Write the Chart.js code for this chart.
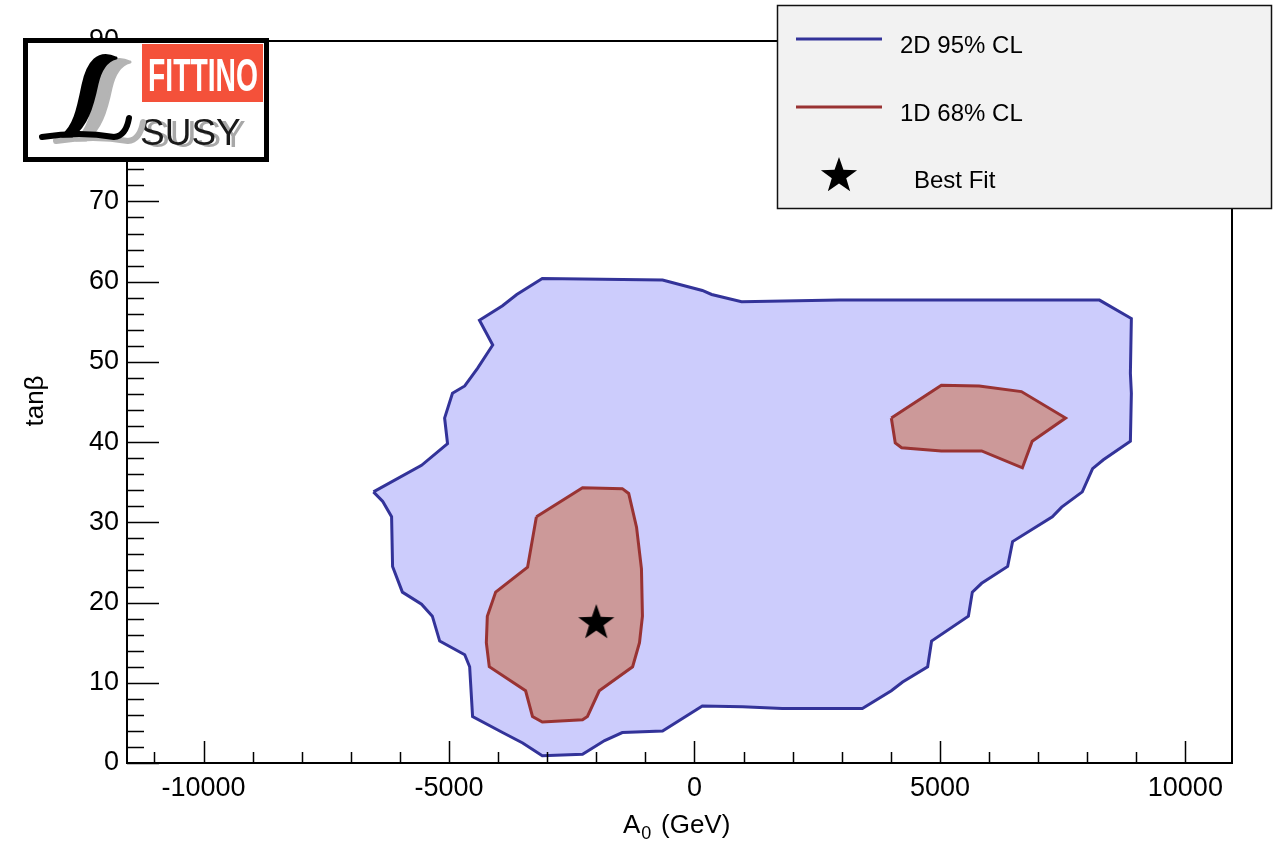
<!DOCTYPE html>
<html>
<head>
<meta charset="utf-8">
<script src="https://cdn.jsdelivr.net/npm/chart.js@4.4.1/dist/chart.umd.min.js"></script>
<style>
html, body { margin: 0; padding: 0; background: #fff; }
</style>
</head>
<body>
<canvas id="fitPlot" width="1281" height="841"></canvas>
<script>
// 2D 95% CL contour (A0 in GeV, tan beta)
var blueA0 = [-6540, -5560, -5030, -5090, -4930, -4680, -4420, -4110, -4380, -3910, -3620, -3100,
    -650, 160, 350, 960, 2950, 8250, 8900, 8880, 8900, 8880, 8330, 8110, 7900, 7480, 7290, 6480,
    6380, 5850, 5660, 5580, 4830, 4750, 4240, 4010, 3420, 1790, 980, 160, -650, -1470, -1830,
    -2280, -3100, -3500, -3910, -4520, -4580, -4680, -5190, -5340, -5560, -5950, -6150, -6170,
    -6350, -6540];
var blueTanb = [33.8, 37.1, 39.8, 43.0, 46.1, 47.0, 49.2, 52.1, 55.2, 57.0, 58.4, 60.4,
    60.2, 58.9, 58.4, 57.5, 57.7, 57.7, 55.4, 48.6, 46.1, 40.1, 37.8, 36.7, 33.8, 31.9, 30.7, 27.6,
    24.5, 22.4, 21.3, 18.3, 15.2, 12.0, 10.1, 9.0, 6.8, 6.8, 7.0, 7.1, 4.0, 3.8, 2.8,
    1.1, 0.9, 2.5, 3.8, 5.8, 12.0, 13.5, 15.2, 18.3, 19.8, 21.3, 24.5, 30.7,
    32.6, 33.8];

// 1D 68% CL islands
var redLeftA0 = [-3220, -2280, -1470, -1340, -1180, -1080, -1060, -1120, -1260, -1940, -2180,
    -2280, -3100, -3300, -3440, -4180, -4240, -4220, -4050, -3400, -3220];
var redLeftTanb = [30.7, 34.3, 34.2, 33.6, 29.4, 24.2, 18.3, 15.0, 12.0, 9.0, 5.8,
    5.4, 5.1, 5.8, 9.0, 12.0, 15.0, 18.3, 21.3, 24.4, 30.7];
var redRightA0 = [4010, 5030, 5800, 6660, 7560, 6880, 6680, 5850, 5030, 4220, 4090, 4010];
var redRightTanb = [43.0, 47.1, 47.0, 46.3, 43.0, 40.1, 36.8, 38.9, 38.9, 39.3, 39.9, 43.0];

var bestA0 = [-2000];
var bestTanb = [17.7];

var xTicks = [-10000, -5000, 0, 5000, 10000];
var yTicks = [0, 10, 20, 30, 40, 50, 60, 70, 80, 90];

var legendLabels = ['2D 95% CL', '1D 68% CL', 'Best Fit'];

var FONT = '"Liberation Sans", Arial, Helvetica, sans-serif';

function zip(xs, ys) {
    var pts = [];
    for (var i = 0; i < xs.length; i++) {
        pts.push({x: xs[i], y: ys[i]});
    }
    return pts;
}

function makeStar(size) {
    var c = document.createElement('canvas');
    c.width = size;
    c.height = size;
    var g = c.getContext('2d');
    var R = size / 2, r = R * 0.4;
    g.beginPath();
    for (var i = 0; i < 10; i++) {
        var rad = (i % 2 === 0) ? R : r;
        var a = -Math.PI / 2 + i * Math.PI / 5;
        var px = R + rad * Math.cos(a), py = R + 2 + rad * Math.sin(a);
        if (i === 0) g.moveTo(px, py); else g.lineTo(px, py);
    }
    g.closePath();
    g.fillStyle = '#000';
    g.fill();
    return c;
}
var starImg = makeStar(38);

function drawLogo(ctx) {
    ctx.save();
    ctx.fillStyle = '#fff';
    ctx.fillRect(23, 38, 246, 124);
    ctx.lineWidth = 5;
    ctx.strokeStyle = '#000';
    ctx.strokeRect(25.5, 40.5, 241, 119);
    ctx.fillStyle = '#f4513a';
    ctx.fillRect(142, 44, 121, 58);
    ctx.fillStyle = '#fff';
    ctx.font = 'bold 47px ' + FONT;
    ctx.textBaseline = 'alphabetic';
    ctx.fillText('FITTINO', 148, 91, 110);
    // SUSY with grey shadow
    ctx.font = '37px ' + FONT;
    ctx.fillStyle = '#a8a8a8';
    ctx.fillText('SUSY', 145, 147, 106);
    ctx.fillStyle = '#1a1a1a';
    ctx.fillText('SUSY', 140, 145, 106);
    // script L, shadow then ink
    var strokes = [['#b4b4b4', 14, 4], ['#000', 0, 0]];
    ctx.lineCap = 'round';
    ctx.lineJoin = 'round';
    strokes.forEach(function (s) {
        var dx = s[1], dy = s[2];
        ctx.strokeStyle = s[0];
        ctx.fillStyle = s[0];
        // stem as a filled tapered stroke
        ctx.beginPath();
        ctx.moveTo(116 + dx, 58 + dy);
        ctx.bezierCurveTo(98 + dx, 50 + dy, 88 + dx, 62 + dy, 83 + dx, 85 + dy);
        ctx.bezierCurveTo(78 + dx, 110 + dy, 74 + dx, 128 + dy, 62 + dx, 136 + dy);
        ctx.lineTo(72 + dx, 136 + dy);
        ctx.bezierCurveTo(86 + dx, 126 + dy, 92 + dx, 108 + dy, 97 + dx, 84 + dy);
        ctx.bezierCurveTo(101 + dx, 66 + dy, 108 + dx, 60 + dy, 116 + dx, 58 + dy);
        ctx.fill();
        ctx.lineWidth = 3;
        ctx.stroke();
        // base stroke
        ctx.beginPath();
        ctx.lineWidth = 6;
        ctx.moveTo(42 + dx, 137 + dy);
        ctx.quadraticCurveTo(80 + dx, 131 + dy, 114 + dx, 137 + dy);
        ctx.quadraticCurveTo(126 + dx, 136 + dy, 129 + dx, 118 + dy);
        ctx.stroke();
    });
    ctx.restore();
}

function drawLegend(ctx) {
    ctx.save();
    ctx.fillStyle = '#f2f2f2';
    ctx.fillRect(777, 5, 495, 204);
    ctx.strokeStyle = '#111';
    ctx.lineWidth = 1.5;
    ctx.strokeRect(777.5, 5.5, 494, 203);
    ctx.lineWidth = 3;
    ctx.strokeStyle = '#333399';
    ctx.beginPath(); ctx.moveTo(796, 39); ctx.lineTo(882, 39); ctx.stroke();
    ctx.strokeStyle = '#993333';
    ctx.beginPath(); ctx.moveTo(796, 107); ctx.lineTo(882, 107); ctx.stroke();
    ctx.drawImage(starImg, 839 - 19, 174 - 19);
    ctx.fillStyle = '#000';
    ctx.font = '24px ' + FONT;
    ctx.textBaseline = 'middle';
    ctx.fillText(legendLabels[0], 900, 46);
    ctx.fillText(legendLabels[1], 900, 114);
    ctx.fillText(legendLabels[2], 914, 181);
    ctx.restore();
}

var rootStyle = {
    id: 'rootStyle',
    afterDatasetsDraw: function (chart) {
        var ctx = chart.ctx, a = chart.chartArea;
        var xs = chart.scales.x, ys = chart.scales.y;
        ctx.save();
        ctx.strokeStyle = '#000';
        ctx.lineWidth = 1.5;
        ctx.beginPath();
        for (var v = -11000; v <= 10000; v += 1000) {
            var px = Math.round(xs.getPixelForValue(v)) + 0.5;
            var len = (v % 5000 === 0) ? 22 : 11;
            ctx.moveTo(px, a.bottom);
            ctx.lineTo(px, a.bottom - len);
        }
        for (var t = 0; t <= 90; t += 2) {
            var py = Math.round(ys.getPixelForValue(t)) + 0.5;
            var l = (t % 10 === 0) ? 32 : 17;
            ctx.moveTo(a.left, py);
            ctx.lineTo(a.left + l, py);
        }
        ctx.stroke();
        ctx.lineWidth = 2;
        ctx.strokeRect(a.left, a.top, a.right - a.left, a.bottom - a.top);
        ctx.restore();
    },
    afterDraw: function (chart) {
        var ctx = chart.ctx;
        ctx.save();
        ctx.fillStyle = '#000';
        ctx.textBaseline = 'alphabetic';
        ctx.font = '26px ' + FONT;
        ctx.fillText('A', 623, 833);
        var w = ctx.measureText('A').width;
        ctx.font = '18px ' + FONT;
        ctx.fillText('0', 623 + w + 1, 839);
        ctx.font = '26px ' + FONT;
        ctx.fillText('(GeV)', 661, 833);
        ctx.translate(43, 401);
        ctx.rotate(-Math.PI / 2);
        ctx.textAlign = 'center';
        ctx.fillText('tan\u03b2', 0, 0);
        ctx.restore();
        drawLogo(ctx);
        drawLegend(ctx);
    }
};

var ctx = document.getElementById('fitPlot').getContext('2d');
var fitChart = new Chart(ctx, {
    type: 'scatter',
    data: {
        datasets: [{
            label: legendLabels[0],
            data: zip(blueA0, blueTanb),
            showLine: true,
            borderColor: '#333399',
            backgroundColor: '#ccccfc',
            borderWidth: 3,
            pointRadius: 0,
            tension: 0,
            fill: 'shape',
            order: 3
        }, {
            label: legendLabels[1],
            data: zip(redLeftA0, redLeftTanb),
            showLine: true,
            borderColor: '#993333',
            backgroundColor: '#cc9999',
            borderWidth: 3,
            pointRadius: 0,
            tension: 0,
            fill: 'shape',
            order: 2
        }, {
            label: legendLabels[1],
            data: zip(redRightA0, redRightTanb),
            showLine: true,
            borderColor: '#993333',
            backgroundColor: '#cc9999',
            borderWidth: 3,
            pointRadius: 0,
            tension: 0,
            fill: 'shape',
            order: 2
        }, {
            label: legendLabels[2],
            data: zip(bestA0, bestTanb),
            pointStyle: starImg,
            pointRadius: 10,
            order: 1
        }]
    },
    options: {
        responsive: false,
        animation: false,
        events: [],
        layout: { padding: { left: 0, top: 41, right: 49, bottom: 0 } },
        plugins: {
            legend: { display: false },
            tooltip: { enabled: false }
        },
        scales: {
            x: {
                type: 'linear',
                min: -11560,
                max: 10950,
                grid: { display: false, drawTicks: false },
                border: { display: false },
                afterFit: function (s) { s.height = 78; },
                afterBuildTicks: function (s) {
                    s.ticks = xTicks.map(function (v) { return {value: v}; });
                },
                ticks: {
                    autoSkip: false,
                    maxRotation: 0,
                    padding: 9,
                    color: '#000',
                    font: { family: FONT, size: 27 },
                    callback: function (v) { return String(v); }
                }
            },
            y: {
                type: 'linear',
                min: 0,
                max: 90,
                grid: { display: false, drawTicks: false },
                border: { display: false },
                afterFit: function (s) { s.width = 127; },
                afterBuildTicks: function (s) {
                    s.ticks = yTicks.map(function (v) { return {value: v}; });
                },
                ticks: {
                    padding: 8,
                    color: '#000',
                    font: { family: FONT, size: 27 },
                    callback: function (v) { return String(v); }
                }
            }
        }
    },
    plugins: [rootStyle]
});
</script>
</body>
</html>
